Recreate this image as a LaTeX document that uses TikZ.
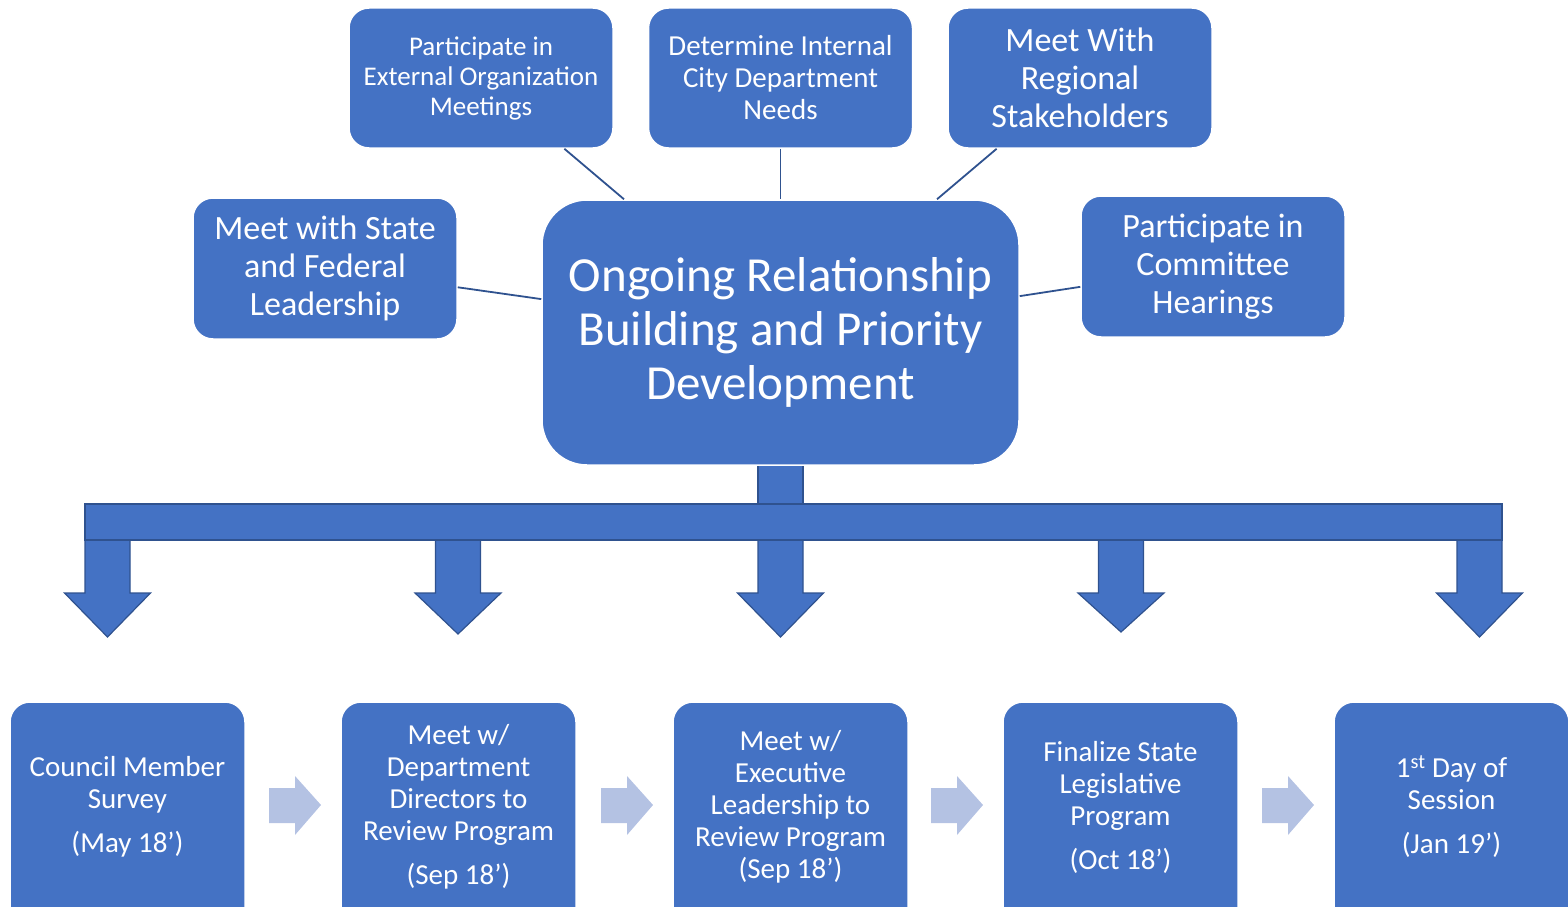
\documentclass[tikz,border=0pt]{standalone}
\usepackage{fontspec}
\setmainfont{Carlito}
\definecolor{sablue}{HTML}{4472C4}
\definecolor{saline}{HTML}{2F528F}
\definecolor{salight}{HTML}{B4C2E3}
\begin{document}
\begin{tikzpicture}[x=1pt,y=-1pt,
  box/.style={rounded corners=20pt, fill=sablue, draw=white, line width=1.5pt,
    text=white, align=center, inner sep=0pt},
  topbox/.style={box, minimum width=264pt, minimum height=140pt},
  lowbox/.style={box, minimum width=235pt, minimum height=250pt},
  lowtext/.style={text=white, align=center, inner sep=0pt,
    font=\fontsize{29}{32}\selectfont},
  link/.style={draw=saline, line width=1.8pt},
  blockarrow/.style={fill=sablue, draw=saline, line width=1.2pt, line join=miter},
  flow/.style={fill=salight}]
\useasboundingbox (0,0) rectangle (1568,907);
\clip (0,0) rectangle (1568,907);

% stem below the central box
\draw[blockarrow] (758,440) rectangle (803,522);

% central box and satellites
\node[box, rounded corners=45pt, minimum width=477pt, minimum height=265pt,
  font=\fontsize{49}{54}\selectfont] (main) at (780.5,332.5)
  {Ongoing Relationship\\Building and Priority\\Development};
\node[topbox, font=\fontsize{27}{30}\selectfont] (ext) at (481,78)
  {Participate in\\External Organization\\Meetings};
\node[topbox, font=\fontsize{29}{32}\selectfont] (dept) at (780.5,78)
  {Determine Internal\\City Department\\Needs};
\node[topbox, font=\fontsize{34}{38}\selectfont] (reg) at (1080,78)
  {Meet With\\Regional\\Stakeholders};
\node[topbox, minimum height=141pt, font=\fontsize{34}{38}\selectfont] (fed) at (325,268.5)
  {Meet with State\\and Federal\\Leadership};
\node[topbox, minimum height=141pt, font=\fontsize{34}{38}\selectfont] (hear) at (1213,266.5)
  {Participate in\\Committee\\Hearings};

\draw[link] (ext) -- (main);
\draw[link] (dept) -- (main);
\draw[link] (reg) -- (main);
\draw[link] (fed) -- (main);
\draw[link] (hear) -- (main);

% down arrows
\foreach \c/\t in {107.5/637, 458/634, 780.5/637, 1121/632, 1479.5/637}{
  \draw[blockarrow] ({\c-22.5},530) -- ({\c-22.5},593) -- ({\c-43},593) -- (\c,\t)
    -- ({\c+43},593) -- ({\c+22.5},593) -- ({\c+22.5},530);
}
% horizontal bar
\draw[blockarrow] (85,504) rectangle (1502,540);

% bottom boxes (running past the lower edge)
\node[lowbox] (b1) at (127.5,827) {};
\node[lowbox] (b2) at (458.5,827) {};
\node[lowbox] (b3) at (790.5,827) {};
\node[lowbox] (b4) at (1120.5,827) {};
\node[lowbox] (b5) at (1451.5,827) {};
\node[lowtext] (t1) at (127.5,807) {Council Member\\Survey\\[12pt](May 18’)};
\node[lowtext] (t2) at (458.5,807) {Meet w/\\Department\\Directors to\\Review Program\\[12pt](Sep 18’)};
\node[lowtext] (t3) at (790.5,807) {Meet w/\\Executive\\Leadership to\\Review Program\\(Sep 18’)};
\node[lowtext] (t4) at (1120.5,807) {Finalize State\\Legislative\\Program\\[12pt](Oct 18’)};
\node[lowtext] (t5) at (1451.5,807) {1\textsuperscript{st} Day of\\Session\\[12pt](Jan 19’)};

% light flow arrows
\foreach \x in {269, 601, 931, 1262}{
  \fill[flow] (\x,788) -- ({\x+26},788) -- ({\x+26},776) -- ({\x+52},805)
    -- ({\x+26},835) -- ({\x+26},823) -- (\x,823) -- cycle;
}
\end{tikzpicture}
\end{document}
